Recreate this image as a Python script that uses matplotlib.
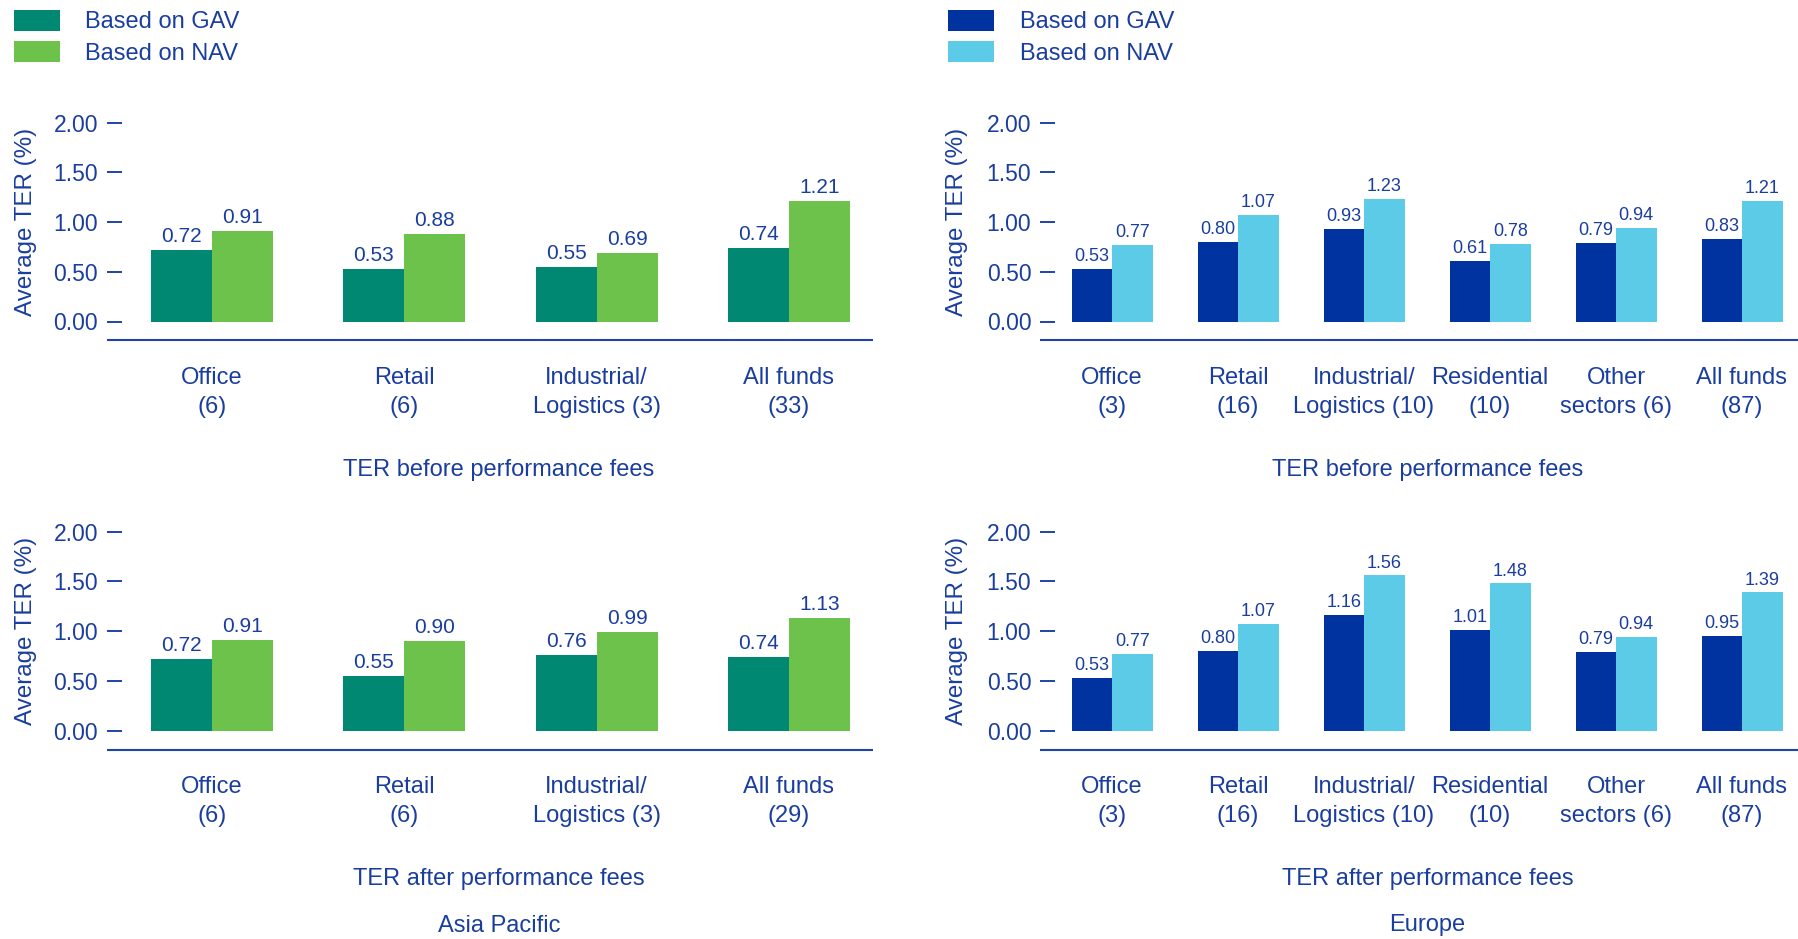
import matplotlib
matplotlib.use("Agg")
import matplotlib.pyplot as plt

plt.rcParams["font.family"] = ["Liberation Sans", "DejaVu Sans"]

# ---- data ----
ap_before_labels = ["Office\n(6)", "Retail\n(6)", "Industrial/\nLogistics (3)", "All funds\n(33)"]
ap_after_labels = ["Office\n(6)", "Retail\n(6)", "Industrial/\nLogistics (3)", "All funds\n(29)"]
ap_before_gav = [0.72, 0.53, 0.55, 0.74]
ap_before_nav = [0.91, 0.88, 0.69, 1.21]
ap_after_gav = [0.72, 0.55, 0.76, 0.74]
ap_after_nav = [0.91, 0.90, 0.99, 1.13]

eu_labels = ["Office\n(3)", "Retail\n(16)", "Industrial/\nLogistics (10)",
             "Residential\n(10)", "Other\nsectors (6)", "All funds\n(87)"]
eu_before_gav = [0.53, 0.80, 0.93, 0.61, 0.79, 0.83]
eu_before_nav = [0.77, 1.07, 1.23, 0.78, 0.94, 1.21]
eu_after_gav = [0.53, 0.80, 1.16, 1.01, 0.79, 0.95]
eu_after_nav = [0.77, 1.07, 1.56, 1.48, 0.94, 1.39]

y_ticks = [0.0, 0.5, 1.0, 1.5, 2.0]
legend_labels = ["Based on GAV", "Based on NAV"]

# ---- style ----
TEXT = "#1A3E9F"
LINE = "#1F44A6"
AP_GAV, AP_NAV = "#008872", "#6CC24A"
EU_GAV, EU_NAV = "#0033A0", "#5BCBE8"

W, H = 1798, 939
fig = plt.figure(figsize=(W / 100, H / 100), dpi=100)

YLO, YHI = -0.25, 2.15
PPU = 99.5  # pixels per y unit


def make_axes(x0, x1, i0, i1, y_zero):
    bottom_px = y_zero - YLO * PPU
    top_px = y_zero - YHI * PPU
    ax = fig.add_axes([x0 / W, 1 - bottom_px / H, (x1 - x0) / W, (bottom_px - top_px) / H])
    ax.set_xlim(i0, i1)
    ax.set_ylim(YLO, YHI)
    ax.patch.set_alpha(0)
    for s in ax.spines.values():
        s.set_visible(False)
    return ax


def draw_panel(ax, labels, gav, nav, c_gav, c_nav, width, val_size, ylabel_x_px, x0, x1):
    idx = list(range(len(labels)))
    b1 = ax.bar([i - width / 2 for i in idx], gav, width=width, color=c_gav, label=legend_labels[0])
    b2 = ax.bar([i + width / 2 for i in idx], nav, width=width, color=c_nav, label=legend_labels[1])
    for bars, vals in ((b1, gav), (b2, nav)):
        for rect, v in zip(bars, vals):
            ax.annotate(f"{v:.2f}", (rect.get_x() + rect.get_width() / 2, v),
                        xytext=(0, 2.8), textcoords="offset points",
                        ha="center", va="bottom", fontsize=val_size, color=TEXT)
    ax.axhline(-0.19, color=LINE, lw=1.5)
    ax.set_yticks(y_ticks)
    ax.set_yticklabels([f"{t:.2f}" for t in y_ticks])
    ax.tick_params(axis="y", direction="in", length=10.8, width=1.4, color=LINE,
                   pad=6.3, labelsize=16.5, labelcolor=TEXT)
    ax.set_xticks(idx)
    ax.set_xticklabels(labels)
    ax.tick_params(axis="x", length=0, pad=14.6, labelsize=17, labelcolor=TEXT)
    for t in ax.get_xticklabels():
        t.set_linespacing(1.42)
    ax.set_ylabel("Average TER (%)", fontsize=17.4, color=TEXT)
    lx = (ylabel_x_px - x0) / (x1 - x0)
    ly = (1.0 - YLO) / (YHI - YLO)
    ax.yaxis.set_label_coords(lx, ly)
    ax.yaxis.label.set_verticalalignment("center")
    return b1, b2


# Asia Pacific panels
ap_x0, ap_x1 = 106.7, 872.6
ap_c0, ap_step = 212.0, 192.3
ap_i0 = (ap_x0 - ap_c0) / ap_step
ap_i1 = (ap_x1 - ap_c0) / ap_step
ap_w = 61.0 / ap_step

ax_ap_top = make_axes(ap_x0, ap_x1, ap_i0, ap_i1, 321.5)
h_ap = draw_panel(ax_ap_top, ap_before_labels, ap_before_gav, ap_before_nav,
                  AP_GAV, AP_NAV, ap_w, 15, 25.5, ap_x0, ap_x1)
ax_ap_bot = make_axes(ap_x0, ap_x1, ap_i0, ap_i1, 730.7)
draw_panel(ax_ap_bot, ap_after_labels, ap_after_gav, ap_after_nav,
           AP_GAV, AP_NAV, ap_w, 15, 25.5, ap_x0, ap_x1)

# Europe panels
eu_x0, eu_x1 = 1040.0, 1798.0
eu_c0, eu_step = 1112.0, 126.0
eu_i0 = (eu_x0 - eu_c0) / eu_step
eu_i1 = (eu_x1 - eu_c0) / eu_step
eu_w = 40.5 / eu_step

ax_eu_top = make_axes(eu_x0, eu_x1, eu_i0, eu_i1, 321.5)
h_eu = draw_panel(ax_eu_top, eu_labels, eu_before_gav, eu_before_nav,
                  EU_GAV, EU_NAV, eu_w, 13, 957.5, eu_x0, eu_x1)
ax_eu_bot = make_axes(eu_x0, eu_x1, eu_i0, eu_i1, 730.7)
draw_panel(ax_eu_bot, eu_labels, eu_after_gav, eu_after_nav,
           EU_GAV, EU_NAV, eu_w, 13, 957.5, eu_x0, eu_x1)

# Legends
for handles, x_px in ((h_ap, 13.8), (h_eu, 948.0)):
    fig.legend(handles=list(handles), labels=legend_labels, loc="upper left",
               bbox_to_anchor=(x_px / W, 1 - 10.0 / H), frameon=False,
               fontsize=17, labelcolor=TEXT, handlelength=1.95, handleheight=0.97,
               handletextpad=1.08, labelspacing=0.33, borderpad=0, borderaxespad=0)

# Panel captions
for x_px, y_px, s in ((498.8, 470.0, "TER before performance fees"),
                      (1427.6, 470.0, "TER before performance fees"),
                      (498.8, 879.0, "TER after performance fees"),
                      (1427.6, 879.0, "TER after performance fees"),
                      (498.8, 926.0, "Asia Pacific"),
                      (1427.6, 925.0, "Europe")):
    fig.text(x_px / W, 1 - y_px / H, s, ha="center", va="center", fontsize=17, color=TEXT)

fig.savefig("out.png", dpi=100)
